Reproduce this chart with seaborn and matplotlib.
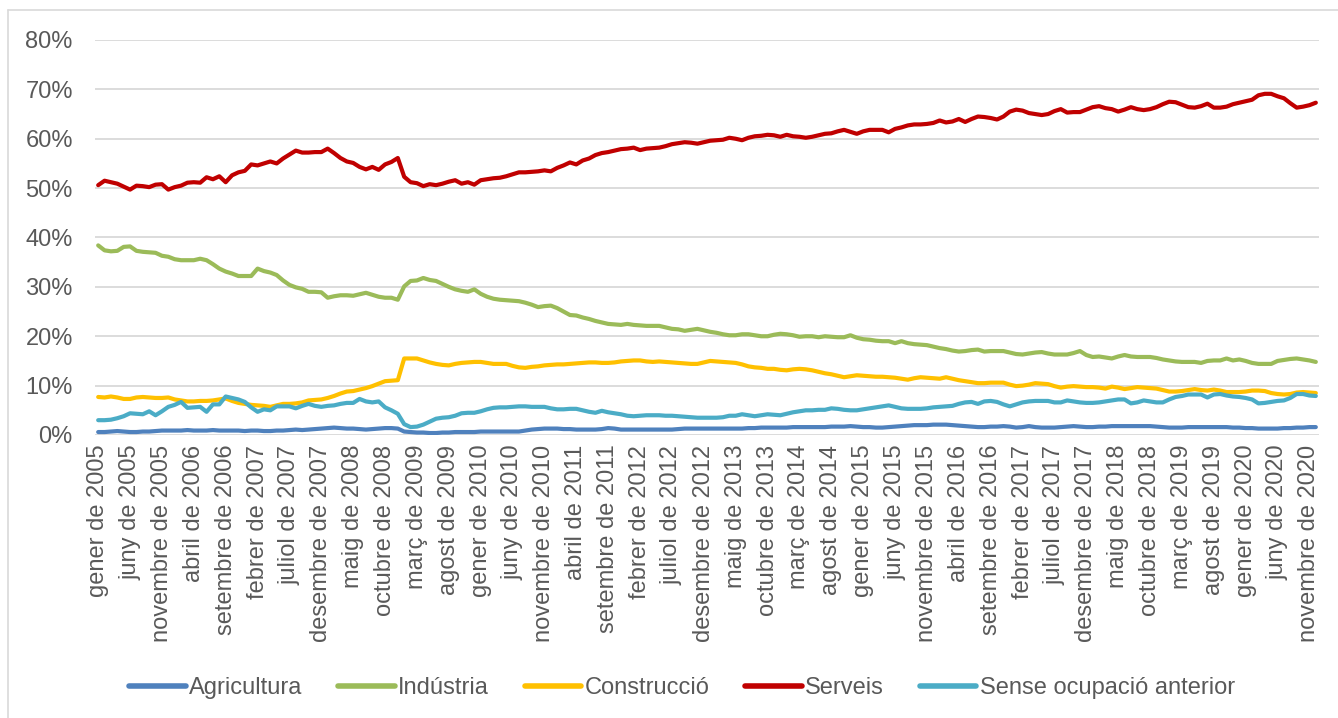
import matplotlib
matplotlib.use("Agg")
import matplotlib.pyplot as plt
from matplotlib.lines import Line2D
import seaborn as sns
import pandas as pd

# mesos (gener 2005 - desembre 2020)
mesos = ["gener", "febrer", "març", "abril", "maig", "juny", "juliol",
         "agost", "setembre", "octubre", "novembre", "desembre"]
periodes = [f"{m} de {a}" for a in range(2005, 2021) for m in mesos]

# % sobre el total, un any per fila
agricultura = [
    0.6, 0.6, 0.7, 0.8, 0.7, 0.6, 0.6, 0.7, 0.7, 0.8, 0.9, 0.9,
    0.9, 0.9, 1.0, 0.9, 0.9, 0.9, 1.0, 0.9, 0.9, 0.9, 0.9, 0.8,
    0.9, 0.9, 0.8, 0.8, 0.9, 0.9, 1.0, 1.1, 1.0, 1.1, 1.2, 1.3,
    1.4, 1.5, 1.4, 1.3, 1.3, 1.2, 1.1, 1.2, 1.3, 1.4, 1.4, 1.3,
    0.7, 0.6, 0.5, 0.5, 0.4, 0.4, 0.5, 0.5, 0.6, 0.6, 0.6, 0.6,
    0.7, 0.7, 0.7, 0.7, 0.7, 0.7, 0.7, 0.9, 1.1, 1.2, 1.3, 1.3,
    1.3, 1.2, 1.2, 1.1, 1.1, 1.1, 1.1, 1.2, 1.4, 1.3, 1.1, 1.1,
    1.1, 1.1, 1.1, 1.1, 1.1, 1.1, 1.1, 1.2, 1.3, 1.3, 1.3, 1.3,
    1.3, 1.3, 1.3, 1.3, 1.3, 1.3, 1.4, 1.4, 1.5, 1.5, 1.5, 1.5,
    1.5, 1.6, 1.6, 1.6, 1.6, 1.6, 1.6, 1.7, 1.7, 1.7, 1.8, 1.7,
    1.6, 1.6, 1.5, 1.5, 1.6, 1.7, 1.8, 1.9, 2.0, 2.0, 2.0, 2.1,
    2.1, 2.1, 2.0, 1.9, 1.8, 1.7, 1.6, 1.6, 1.7, 1.7, 1.8, 1.7,
    1.5, 1.6, 1.8, 1.6, 1.5, 1.5, 1.5, 1.6, 1.7, 1.8, 1.7, 1.6,
    1.6, 1.7, 1.7, 1.8, 1.8, 1.8, 1.8, 1.8, 1.8, 1.8, 1.7, 1.6,
    1.5, 1.5, 1.5, 1.6, 1.6, 1.6, 1.6, 1.6, 1.6, 1.6, 1.5, 1.5,
    1.4, 1.4, 1.3, 1.3, 1.3, 1.3, 1.4, 1.4, 1.5, 1.5, 1.6, 1.6,
]

industria = [
    38.4, 37.4, 37.2, 37.3, 38.1, 38.2, 37.3, 37.1, 37.0, 36.9, 36.3, 36.1,
    35.6, 35.4, 35.4, 35.4, 35.7, 35.4, 34.6, 33.7, 33.1, 32.7, 32.2, 32.2,
    32.2, 33.7, 33.2, 32.9, 32.4, 31.3, 30.4, 29.9, 29.6, 29.0, 29.0, 28.9,
    27.8, 28.1, 28.3, 28.3, 28.2, 28.5, 28.8, 28.4, 28.0, 27.8, 27.8, 27.4,
    30.1, 31.2, 31.3, 31.8, 31.4, 31.2, 30.6, 30.0, 29.5, 29.2, 29.0, 29.5,
    28.6, 28.0, 27.6, 27.4, 27.3, 27.2, 27.1, 26.8, 26.4, 25.9, 26.1, 26.2,
    25.7, 25.0, 24.3, 24.2, 23.8, 23.5, 23.1, 22.8, 22.5, 22.4, 22.3, 22.5,
    22.3, 22.2, 22.1, 22.1, 22.1, 21.8, 21.5, 21.4, 21.1, 21.3, 21.5, 21.2,
    20.9, 20.7, 20.4, 20.2, 20.2, 20.4, 20.4, 20.2, 20.0, 20.0, 20.3, 20.5,
    20.4, 20.2, 19.9, 20.0, 20.0, 19.8, 20.0, 19.9, 19.8, 19.8, 20.2, 19.7,
    19.4, 19.3, 19.1, 19.0, 19.0, 18.6, 19.0, 18.6, 18.4, 18.3, 18.2, 17.9,
    17.6, 17.4, 17.1, 16.9, 17.0, 17.2, 17.3, 16.9, 17.0, 17.0, 17.0, 16.7,
    16.4, 16.3, 16.5, 16.7, 16.8, 16.5, 16.3, 16.3, 16.3, 16.6, 17.0, 16.2,
    15.8, 15.9, 15.7, 15.5, 15.9, 16.2, 15.9, 15.8, 15.8, 15.8, 15.6, 15.3,
    15.1, 14.9, 14.8, 14.8, 14.8, 14.6, 15.0, 15.1, 15.1, 15.5, 15.1, 15.3,
    15.0, 14.6, 14.4, 14.4, 14.4, 15.0, 15.2, 15.4, 15.5, 15.3, 15.1, 14.8,
]

construccio = [
    7.7, 7.6, 7.8, 7.6, 7.3, 7.3, 7.6, 7.7, 7.6, 7.5, 7.5, 7.6,
    7.2, 7.0, 6.8, 6.8, 6.9, 6.9, 7.0, 7.2, 7.4, 6.9, 6.5, 6.3,
    6.1, 6.0, 5.9, 5.7, 6.0, 6.3, 6.3, 6.4, 6.6, 7.0, 7.1, 7.2,
    7.5, 7.9, 8.4, 8.8, 8.9, 9.2, 9.5, 9.9, 10.4, 10.9, 11.0, 11.1,
    15.5, 15.5, 15.5, 15.1, 14.7, 14.4, 14.2, 14.1, 14.4, 14.6, 14.7, 14.8,
    14.8, 14.6, 14.4, 14.4, 14.4, 14.0, 13.7, 13.6, 13.8, 13.9, 14.1, 14.2,
    14.3, 14.3, 14.4, 14.5, 14.6, 14.7, 14.7, 14.6, 14.6, 14.7, 14.9, 15.0,
    15.1, 15.1, 14.9, 14.8, 14.9, 14.8, 14.7, 14.6, 14.5, 14.4, 14.4, 14.7,
    15.0, 14.9, 14.8, 14.7, 14.6, 14.3, 13.9, 13.7, 13.6, 13.4, 13.4, 13.2,
    13.1, 13.3, 13.4, 13.3, 13.1, 12.8, 12.5, 12.3, 12.0, 11.7, 11.9, 12.1,
    12.0, 11.9, 11.8, 11.8, 11.7, 11.6, 11.4, 11.2, 11.5, 11.7, 11.6, 11.5,
    11.4, 11.7, 11.4, 11.1, 10.9, 10.7, 10.5, 10.5, 10.6, 10.6, 10.6, 10.2,
    9.9, 10.0, 10.2, 10.5, 10.4, 10.3, 9.9, 9.6, 9.8, 9.9, 9.8, 9.7,
    9.7, 9.6, 9.4, 9.8, 9.6, 9.3, 9.5, 9.7, 9.6, 9.5, 9.4, 9.1,
    8.8, 8.8, 8.9, 9.1, 9.3, 9.1, 9.0, 9.2, 9.0, 8.7, 8.7, 8.7,
    8.8, 9.0, 9.0, 8.9, 8.5, 8.3, 8.2, 8.3, 8.6, 8.7, 8.6, 8.5,
]

serveis = [
    50.6, 51.5, 51.2, 50.9, 50.3, 49.7, 50.5, 50.4, 50.2, 50.7, 50.8, 49.7,
    50.2, 50.5, 51.1, 51.2, 51.1, 52.2, 51.8, 52.4, 51.2, 52.6, 53.2, 53.5,
    54.8, 54.6, 55.0, 55.4, 55.0, 56.0, 56.8, 57.6, 57.2, 57.2, 57.3, 57.3,
    58.0, 57.1, 56.1, 55.4, 55.1, 54.3, 53.8, 54.3, 53.7, 54.8, 55.3, 56.1,
    52.3, 51.2, 51.0, 50.4, 50.8, 50.6, 50.9, 51.3, 51.6, 50.9, 51.2, 50.7,
    51.6, 51.8, 52.0, 52.1, 52.4, 52.8, 53.2, 53.2, 53.3, 53.4, 53.6, 53.4,
    54.1, 54.6, 55.2, 54.8, 55.6, 56.0, 56.7, 57.1, 57.3, 57.6, 57.9, 58.0,
    58.2, 57.7, 58.0, 58.1, 58.2, 58.5, 58.9, 59.1, 59.3, 59.2, 59.0, 59.3,
    59.6, 59.7, 59.8, 60.2, 60.0, 59.7, 60.2, 60.5, 60.6, 60.8, 60.7, 60.4,
    60.8, 60.5, 60.4, 60.2, 60.4, 60.7, 61.0, 61.1, 61.5, 61.8, 61.4, 61.0,
    61.5, 61.8, 61.8, 61.8, 61.3, 62.0, 62.3, 62.7, 62.9, 62.9, 63.0, 63.2,
    63.7, 63.3, 63.5, 64.0, 63.4, 64.0, 64.5, 64.4, 64.2, 63.9, 64.5, 65.5,
    65.9, 65.7, 65.2, 65.0, 64.8, 65.0, 65.6, 66.0, 65.3, 65.4, 65.4, 65.9,
    66.4, 66.6, 66.2, 66.0, 65.5, 65.9, 66.4, 66.0, 65.8, 66.0, 66.4, 67.0,
    67.5, 67.4, 66.9, 66.4, 66.3, 66.6, 67.1, 66.3, 66.3, 66.5, 67.0, 67.3,
    67.6, 67.9, 68.8, 69.1, 69.1, 68.6, 68.2, 67.2, 66.3, 66.5, 66.8, 67.3,
]

sense_ocupacio = [
    3.0, 3.0, 3.1, 3.4, 3.8, 4.4, 4.3, 4.2, 4.8, 4.0, 4.8, 5.7,
    6.1, 6.7, 5.5, 5.6, 5.7, 4.7, 6.2, 6.2, 7.8, 7.5, 7.2, 6.7,
    5.6, 4.7, 5.2, 5.0, 5.8, 5.8, 5.8, 5.4, 5.9, 6.3, 5.9, 5.7,
    5.9, 6.0, 6.3, 6.5, 6.5, 7.3, 6.8, 6.6, 6.8, 5.6, 5.0, 4.3,
    2.2, 1.6, 1.7, 2.1, 2.7, 3.3, 3.5, 3.6, 3.9, 4.4, 4.5, 4.5,
    4.8, 5.2, 5.5, 5.6, 5.6, 5.7, 5.8, 5.8, 5.7, 5.7, 5.7, 5.4,
    5.2, 5.2, 5.3, 5.3, 5.0, 4.7, 4.5, 4.9, 4.6, 4.4, 4.2, 3.9,
    3.8, 3.9, 4.0, 4.0, 4.0, 3.9, 3.9, 3.8, 3.7, 3.6, 3.5, 3.5,
    3.5, 3.5, 3.6, 3.9, 3.9, 4.2, 4.0, 3.8, 4.0, 4.2, 4.1, 4.0,
    4.3, 4.6, 4.8, 5.0, 5.0, 5.1, 5.1, 5.4, 5.3, 5.1, 5.0, 5.0,
    5.2, 5.4, 5.6, 5.8, 6.0, 5.7, 5.4, 5.3, 5.3, 5.3, 5.4, 5.6,
    5.7, 5.8, 5.9, 6.3, 6.6, 6.7, 6.3, 6.8, 6.9, 6.7, 6.2, 5.8,
    6.2, 6.6, 6.8, 6.9, 6.9, 6.9, 6.6, 6.6, 7.0, 6.8, 6.6, 6.5,
    6.5, 6.6, 6.8, 7.0, 7.2, 7.2, 6.4, 6.6, 7.0, 6.8, 6.6, 6.6,
    7.2, 7.7, 7.9, 8.2, 8.2, 8.2, 7.6, 8.2, 8.3, 8.0, 7.8, 7.7,
    7.5, 7.2, 6.4, 6.5, 6.7, 6.9, 7.0, 7.5, 8.3, 8.3, 8.0, 7.9,
]

sectors = ["Agricultura", "Indústria", "Construcció", "Serveis", "Sense ocupació anterior"]
colors = ["#4F81BD", "#9BBB59", "#FFC000", "#C00000", "#4BACC6"]
series = [agricultura, industria, construccio, serveis, sense_ocupacio]

frames = []
for nom, vals in zip(sectors, series):
    frames.append(pd.DataFrame({"mes": range(len(vals)), "valor": vals, "sector": nom}))
df = pd.concat(frames, ignore_index=True)

sns.set_style("white")
plt.rcParams["font.family"] = ["Liberation Sans", "DejaVu Sans"]

W, H = 1338, 718
fig = plt.figure(figsize=(W / 100, H / 100), dpi=100)
ax = fig.add_axes([95 / W, 1 - 435 / H, (1319 - 95) / W, (435 - 40) / H])

sns.lineplot(data=df, x="mes", y="valor", hue="sector", hue_order=sectors,
             palette=dict(zip(sectors, colors)), linewidth=3.0, ax=ax,
             legend=False)

ax.set_xlim(-0.5, len(periodes) - 0.5)
ax.set_ylim(0, 80)
ax.set_yticks(range(0, 81, 10))
ax.set_yticklabels([f"{v}%" for v in range(0, 81, 10)])
ax.set_xticks(range(0, len(periodes), 5))
ax.set_xticklabels(periodes[::5], rotation=90)
ax.tick_params(axis="both", length=0, labelsize=17, colors="#595959")
ax.tick_params(axis="y", pad=16)
ax.tick_params(axis="x", pad=7)
ax.grid(axis="y", color="#D9D9D9", linewidth=1.3)
ax.grid(axis="x", visible=False)
ax.set_axisbelow(True)
for s in ax.spines.values():
    s.set_visible(False)
ax.set_xlabel("")
ax.set_ylabel("")

handles = [Line2D([], [], color=c, linewidth=4, solid_capstyle="round") for c in colors]
fig.legend(handles, sectors, loc="center", bbox_to_anchor=(682 / W, 1 - 688 / H),
           ncol=5, frameon=False, fontsize=17, labelcolor="#595959",
           handlelength=2.4, handletextpad=0.15, columnspacing=1.5)

# vora del gràfic
fig.add_artist(Line2D([8 / W, 1], [1 - 10 / H, 1 - 10 / H], transform=fig.transFigure,
                      color="#D9D9D9", linewidth=1.2))
fig.add_artist(Line2D([8 / W, 8 / W], [0, 1 - 10 / H], transform=fig.transFigure,
                      color="#D9D9D9", linewidth=1.2))

fig.savefig("out.png", dpi=100, facecolor="white")
